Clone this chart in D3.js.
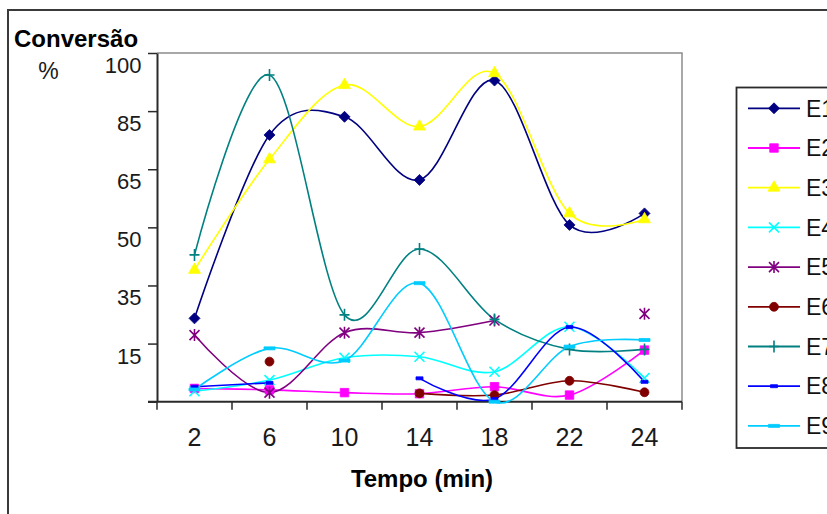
<!DOCTYPE html>
<html>
<head>
<meta charset="utf-8">
<script src="https://cdn.jsdelivr.net/npm/d3@7"></script>
<style>
  html, body { margin: 0; padding: 0; background: #fff; overflow: hidden; }
  svg { display: block; }
</style>
</head>
<body>
<svg id="chart" width="827" height="514"></svg>
<script>
// Reaction time (min)
const categories = ["2", "6", "10", "14", "18", "22", "24"];

// Conversion (%) per experiment; null = not measured
const E1 = [23.9, 76.5, 81.7, 63.6, 92.1, 50.7, 54.0];
const E2 = [3.8, 3.4, 2.6, 2.3, 4.3, 1.9, 14.8];
const E3 = [37.8, 69.5, 90.8, 78.9, 94.2, 54.0, 52.3];
const E4 = [3.0, 6.2, 12.6, 12.9, 8.6, 21.5, 6.8];
const E5 = [19.1, 2.6, 19.8, 19.8, 23.3, null, 25.2];
const E6 = [null, 11.5, null, 2.4, 1.9, 6.0, 2.7];
const E7 = [42.1, 93.7, 24.9, 43.8, 23.6, 15.0, 15.0];
const E8 = [4.3, 5.4, null, 6.7, 0.8, 21.4, 5.7];
const E9 = [3.5, 15.3, 11.8, 34.0, 0.0, 15.8, 17.7];

const seriesNames = ["E1", "E2", "E3", "E4", "E5", "E6", "E7", "E8", "E9"];
const seriesValues = [E1, E2, E3, E4, E5, E6, E7, E8, E9];
const seriesColors = ["#000080", "#ff00ff", "#ffff00", "#00ffff", "#800080",
                      "#800000", "#008080", "#0000ff", "#00ccff"];
const seriesMarkers = ["diamond", "square", "triangle", "x", "star",
                       "circle", "plus", "dashShort", "dashLong"];

// Labels typed on the value axis (one per major tick above zero)
const yTickLabels = ["15", "35", "50", "65", "85", "100"];

const svg = d3.select("#chart");
const plot = { left: 157, right: 682, top: 53, bottom: 401.7 };

const x = d3.scaleBand().domain(categories).range([plot.left, plot.right]).paddingInner(0).paddingOuter(0);
const xc = c => x(c) + x.bandwidth() / 2;
const y = d3.scaleLinear().domain([0, 100]).range([plot.bottom, plot.top]);

const tickFont = '"Liberation Sans Narrow", "Arial Narrow", "Liberation Sans", Arial, sans-serif';
const sansFont = '"Liberation Sans", Arial, sans-serif';

// Outer chart frame
svg.append("rect")
  .attr("x", 8).attr("y", 10).attr("width", 830).attr("height", 520)
  .attr("fill", "none").attr("stroke", "#3a3a3a").attr("stroke-width", 2);

// Plot area frame (top and right edges)
svg.append("path")
  .attr("d", `M${plot.left},${plot.top}H${plot.right}V${plot.bottom}`)
  .attr("fill", "none").attr("stroke", "#8c8c8c").attr("stroke-width", 1.5);

// Value axis: six equal major divisions, custom labels
const yMajor = d3.range(7).map(i => i * 100 / 6);
const yAxis = d3.axisLeft(y).tickValues(yMajor).tickSizeOuter(0).tickSizeInner(9).tickFormat("");
const gy = svg.append("g").attr("transform", `translate(${plot.left},0)`).call(yAxis);
gy.select(".domain").attr("stroke", "#2a2a2a").attr("stroke-width", 2);
gy.selectAll(".tick line").attr("stroke", "#2a2a2a").attr("stroke-width", 1.5);

svg.append("g").selectAll("text")
  .data(yTickLabels)
  .join("text")
  .attr("x", 141.5)
  .attr("y", (d, i) => y(yMajor[i + 1]) + 20)
  .attr("text-anchor", "end")
  .attr("font-family", tickFont)
  .attr("font-size", 22)
  .attr("fill", "#1a1a1a")
  .text(d => d);

svg.append("text")
  .attr("x", 48.5).attr("y", 79)
  .attr("text-anchor", "middle")
  .attr("font-family", tickFont)
  .attr("font-size", 23)
  .attr("fill", "#1a1a1a")
  .text("%");

// Category axis: ticks between categories
const xEdges = categories.map(c => x(c)).concat([plot.right]);
const gx = svg.append("g");
gx.append("line")
  .attr("x1", plot.left - 9).attr("x2", plot.right)
  .attr("y1", plot.bottom).attr("y2", plot.bottom)
  .attr("stroke", "#2a2a2a").attr("stroke-width", 2);
gx.selectAll("line.edge")
  .data(xEdges)
  .join("line")
  .attr("class", "edge")
  .attr("x1", d => d).attr("x2", d => d)
  .attr("y1", plot.bottom).attr("y2", plot.bottom + 8)
  .attr("stroke", "#2a2a2a").attr("stroke-width", 1.5);
const xAxis = d3.axisBottom(x).tickSize(0).tickPadding(0);
const gxl = svg.append("g").attr("transform", `translate(0,${plot.bottom})`).call(xAxis);
gxl.select(".domain").remove();
gxl.selectAll("text")
  .attr("font-family", tickFont)
  .attr("font-size", 25)
  .attr("fill", "#1a1a1a")
  .attr("dy", null)
  .attr("y", 44);

// Titles
svg.append("text")
  .attr("x", 14).attr("y", 46.5)
  .attr("font-family", sansFont).attr("font-weight", "bold").attr("font-size", 24)
  .attr("fill", "#000")
  .text("Conversão");
svg.append("text")
  .attr("x", 422).attr("y", 487)
  .attr("text-anchor", "middle")
  .attr("font-family", sansFont).attr("font-weight", "bold").attr("font-size", 24)
  .attr("fill", "#000")
  .text("Tempo (min)");

// Marker shapes
function markerPath(type) {
  switch (type) {
    case "diamond": return "M0,-5.5L5.5,0L0,5.5L-5.5,0Z";
    case "square": return d3.symbol(d3.symbolSquare, 72)();
    case "triangle": return d3.symbol(d3.symbolTriangle, 62)();
    case "circle": return d3.symbol(d3.symbolCircle, 62)();
    case "x": return "M-5,-5L5,5M-5,5L5,-5";
    case "star": return "M-5,-5L5,5M-5,5L5,-5M0,-6V6";
    case "plus": return "M-5,0H5M0,-6V6";
    case "dashShort": return "M-3.5,-1.5H3.5V1.5H-3.5Z";
    case "dashLong": return "M-5.5,-1.5H5.5V1.5H-5.5Z";
  }
}
const strokeOnly = new Set(["x", "star", "plus"]);

function drawMarker(g, type, color, cx, cy) {
  const p = g.append("path")
    .attr("d", markerPath(type))
    .attr("transform", `translate(${cx},${cy})`);
  if (strokeOnly.has(type)) {
    p.attr("fill", "none").attr("stroke", color).attr("stroke-width", 1.6);
  } else {
    p.attr("fill", color).attr("stroke", color).attr("stroke-width", 0.8);
  }
}

// Smoothed series lines
const line = d3.line()
  .defined(d => d.v != null)
  .x(d => xc(d.c))
  .y(d => y(d.v))
  .curve(d3.curveCardinal.tension(0));

const series = seriesNames.map((name, i) => ({
  name,
  color: seriesColors[i],
  marker: seriesMarkers[i],
  points: categories.map((c, j) => ({ c, v: seriesValues[i][j] }))
}));

const gSeries = svg.append("g");
series.forEach(s => {
  gSeries.append("path")
    .attr("d", line(s.points))
    .attr("fill", "none")
    .attr("stroke", s.color)
    .attr("stroke-width", 1.6);
});
series.forEach(s => {
  const gm = gSeries.append("g");
  s.points.filter(p => p.v != null).forEach(p => drawMarker(gm, s.marker, s.color, xc(p.c), y(p.v)));
});

// Legend (runs past the right edge of the chart)
const legend = svg.append("g");
legend.append("rect")
  .attr("x", 736.5).attr("y", 87.5).attr("width", 120).attr("height", 360.5)
  .attr("fill", "#fff").attr("stroke", "#2a2a2a").attr("stroke-width", 1.8);
series.forEach((s, i) => {
  const ly = 108.3 + i * 39.7;
  legend.append("line")
    .attr("x1", 748).attr("x2", 800).attr("y1", ly).attr("y2", ly)
    .attr("stroke", s.color).attr("stroke-width", 1.8);
  drawMarker(legend, s.marker, s.color, 774, ly);
  legend.append("text")
    .attr("x", 806).attr("y", ly + 8.2)
    .attr("font-family", sansFont).attr("font-size", 23)
    .attr("fill", "#111")
    .text(s.name);
});
</script>
</body>
</html>
